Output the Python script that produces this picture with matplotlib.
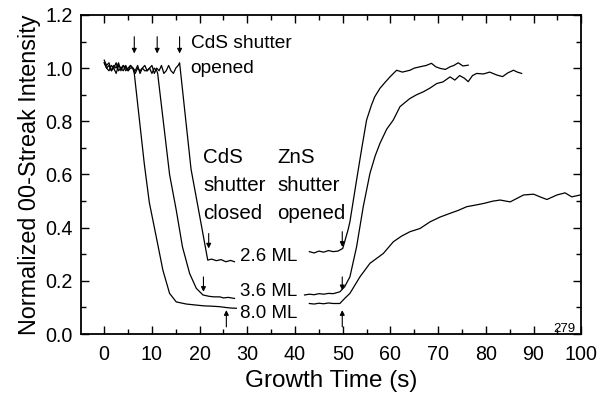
import numpy as np
import matplotlib
matplotlib.use('Agg')
import matplotlib.pyplot as plt
from matplotlib.ticker import MultipleLocator

plt.rcParams['font.family'] = ['Liberation Sans', 'DejaVu Sans']

# 2.6 ML curve
t_a1 = [0, 0.5, 1, 1.5, 2, 2.5, 3, 3.5, 4, 4.5, 5, 5.5, 6, 6.5, 7, 7.5, 8, 8.5, 9, 9.5,
        10, 10.5, 11, 11.5, 12, 12.5, 13, 13.5, 14, 14.5, 15, 15.5, 15.8, 18.2, 20.0, 21.7,
        22.5, 23.5, 24.5, 25.5, 26.5, 27.3]
i_a1 = [1.03, 1.01, 1.02, 0.99, 1.01, 1.00, 1.02, 0.99, 1.01, 1.00, 0.99, 1.01, 1.00, 0.98,
        1.00, 0.99, 1.00, 1.01, 0.99, 1.00, 1.01, 0.98, 1.00, 0.99, 1.01, 0.98, 0.99, 1.01,
        0.99, 0.98, 1.00, 1.01, 1.02, 0.62, 0.445, 0.278, 0.282, 0.276, 0.28, 0.272, 0.277, 0.272]
t_a2 = [43, 44, 45, 46, 47, 48, 49, 50, 51.1, 51.5, 52.9, 54, 55, 56, 56.7, 57.8, 58.8, 59.9,
        61.3, 62.5, 64.1, 65, 66.2, 67.5, 68.6, 69.5, 70.4, 71.5, 72.5, 73.3, 74.2, 75.2, 76.3]
i_a2 = [0.31, 0.305, 0.312, 0.308, 0.314, 0.31, 0.312, 0.322, 0.391, 0.422, 0.579, 0.70, 0.805,
        0.86, 0.892, 0.924, 0.945, 0.967, 0.992, 0.985, 0.992, 1.0, 1.005, 1.01, 1.018, 1.005,
        0.999, 0.995, 1.005, 1.01, 1.02, 1.008, 1.011]

# 3.6 ML curve
t_b1 = [0, 0.5, 1, 1.5, 2, 2.5, 3, 3.5, 4, 4.5, 5, 5.5, 6, 6.5, 7, 7.5, 8, 8.5, 9, 9.5,
        10, 10.5, 11, 11.2, 13.7, 15.1, 16.4, 17.9, 19.3, 20.7, 22, 23, 24.2, 25, 26, 27.3]
i_b1 = [1.02, 1.00, 0.99, 1.01, 1.00, 0.98, 1.01, 1.00, 0.99, 1.01, 0.99, 1.00, 1.00, 0.99,
        1.01, 0.98, 1.00, 0.99, 0.99, 1.00, 0.98, 1.00, 0.99, 0.98, 0.6, 0.466, 0.328, 0.228,
        0.172, 0.147, 0.142, 0.14, 0.14, 0.136, 0.138, 0.134]
t_b2 = [42, 43, 44, 45, 46, 47, 48, 49.4, 50.4, 51.5, 52.9, 54.3, 55.7, 56.8, 57.8, 59.2, 60.6,
        62, 63, 64.1, 65.5, 66.9, 68.3, 69.7, 71, 72.5, 73.5, 74.5, 75.5, 76.3, 77.2, 78.1, 79.5,
        80.8, 82.3, 83.5, 84.6, 85.8, 86.6, 87.5]
i_b2 = [0.147, 0.15, 0.148, 0.152, 0.15, 0.153, 0.152, 0.159, 0.178, 0.215, 0.328, 0.479, 0.604,
        0.67, 0.717, 0.77, 0.805, 0.855, 0.87, 0.886, 0.9, 0.911, 0.925, 0.942, 0.948, 0.967,
        0.955, 0.972, 0.962, 0.949, 0.972, 0.98, 0.978, 0.985, 0.974, 0.968, 0.982, 0.992,
        0.985, 0.98]

# 8.0 ML curve
t_c1 = [0, 0.5, 1, 1.5, 2, 2.5, 3, 3.5, 4, 4.5, 5, 5.5, 6, 6.3, 8.4, 9.45, 10.9, 12.3, 13.7,
        15.1, 17.2, 19.3, 21, 22.5, 24.2, 25.5, 26.5, 27.7]
i_c1 = [1.02, 1.00, 1.01, 0.99, 1.00, 1.02, 0.99, 1.00, 1.01, 0.99, 1.00, 1.01, 1.00, 0.98,
        0.64, 0.495, 0.366, 0.24, 0.153, 0.121, 0.113, 0.109, 0.106, 0.105, 0.103, 0.1, 0.098, 0.097]
t_c2 = [43, 44, 45, 46, 47, 48, 49.4, 50.4, 51.5, 53.6, 55.7, 58.5, 60.6, 62.3, 64.1, 66.2, 68.3,
        70.4, 72.5, 74.2, 76, 77.8, 79.5, 81.5, 83, 85.1, 86.5, 87.9, 90, 91.5, 92.8, 94.9, 96.6,
        98, 99.8]
i_c2 = [0.115, 0.113, 0.116, 0.114, 0.117, 0.115, 0.115, 0.134, 0.153, 0.215, 0.266, 0.303,
        0.347, 0.368, 0.385, 0.397, 0.422, 0.44, 0.454, 0.465, 0.479, 0.485, 0.491, 0.5, 0.504,
        0.497, 0.51, 0.523, 0.526, 0.515, 0.506, 0.523, 0.531, 0.516, 0.523]

fig = plt.figure(figsize=(5.98, 4.03), dpi=100)
ax = fig.add_axes([0.136, 0.171, 0.836, 0.792])

for t, i in [(t_a1, i_a1), (t_a2, i_a2), (t_b1, i_b1), (t_b2, i_b2), (t_c1, i_c1), (t_c2, i_c2)]:
    ax.plot(t, i, color='black', lw=0.9)

ax.set_xlim(-4.8, 100)
ax.set_ylim(0, 1.2)
ax.xaxis.set_major_locator(MultipleLocator(10))
ax.xaxis.set_minor_locator(MultipleLocator(5))
ax.yaxis.set_major_locator(MultipleLocator(0.2))
ax.yaxis.set_minor_locator(MultipleLocator(0.1))
ax.yaxis.set_major_formatter(matplotlib.ticker.FormatStrFormatter('%.1f'))
ax.tick_params(which='both', direction='in', top=True, right=True, width=1.0)
ax.tick_params(which='major', length=5.5, labelsize=14.2)
ax.tick_params(axis='x', which='major', pad=7.5)
ax.tick_params(axis='y', which='major', pad=6)
ax.tick_params(which='minor', length=3.5)
for s in ax.spines.values():
    s.set_linewidth(1.3)

ax.set_xlabel('Growth Time (s)', fontsize=17.5, labelpad=5)
ax.set_ylabel('Normalized 00-Streak Intensity', fontsize=16.8, labelpad=3)

arrow = dict(arrowstyle='-|>', color='black', lw=0.8, mutation_scale=7, shrinkA=0, shrinkB=0)
for x in [6.3, 11.1, 15.8]:
    ax.annotate('', xy=(x, 1.055), xytext=(x, 1.118), arrowprops=arrow)
ax.annotate('', xy=(21.9, 0.322), xytext=(21.9, 0.378), arrowprops=arrow)
ax.annotate('', xy=(20.8, 0.159), xytext=(20.8, 0.215), arrowprops=arrow)
ax.annotate('', xy=(25.6, 0.09), xytext=(25.6, 0.027), arrowprops=arrow)
ax.annotate('', xy=(49.9, 0.328), xytext=(49.9, 0.385), arrowprops=arrow)
ax.annotate('', xy=(49.9, 0.165), xytext=(49.9, 0.215), arrowprops=arrow)
ax.annotate('', xy=(49.9, 0.09), xytext=(49.9, 0.027), arrowprops=arrow)

ax.text(18.1, 1.075, 'CdS shutter', fontsize=13.8, va='baseline')
ax.text(18.1, 0.98, 'opened', fontsize=13.8, va='baseline')
for txt, y in [('CdS', 0.645), ('shutter', 0.538), ('closed', 0.431)]:
    ax.text(20.7, y, txt, fontsize=14.8, va='baseline')
for txt, y in [('ZnS', 0.645), ('shutter', 0.538), ('opened', 0.431)]:
    ax.text(36.3, y, txt, fontsize=14.8, va='baseline')
ax.text(28.4, 0.276, '2.6 ML', fontsize=13.5, va='baseline')
ax.text(28.4, 0.144, '3.6 ML', fontsize=13.5, va='baseline')
ax.text(28.4, 0.062, '8.0 ML', fontsize=13.5, va='baseline')
ax.text(94.1, 0.006, '279', fontsize=9.5, va='baseline')

fig.savefig('out.png', dpi=100)
